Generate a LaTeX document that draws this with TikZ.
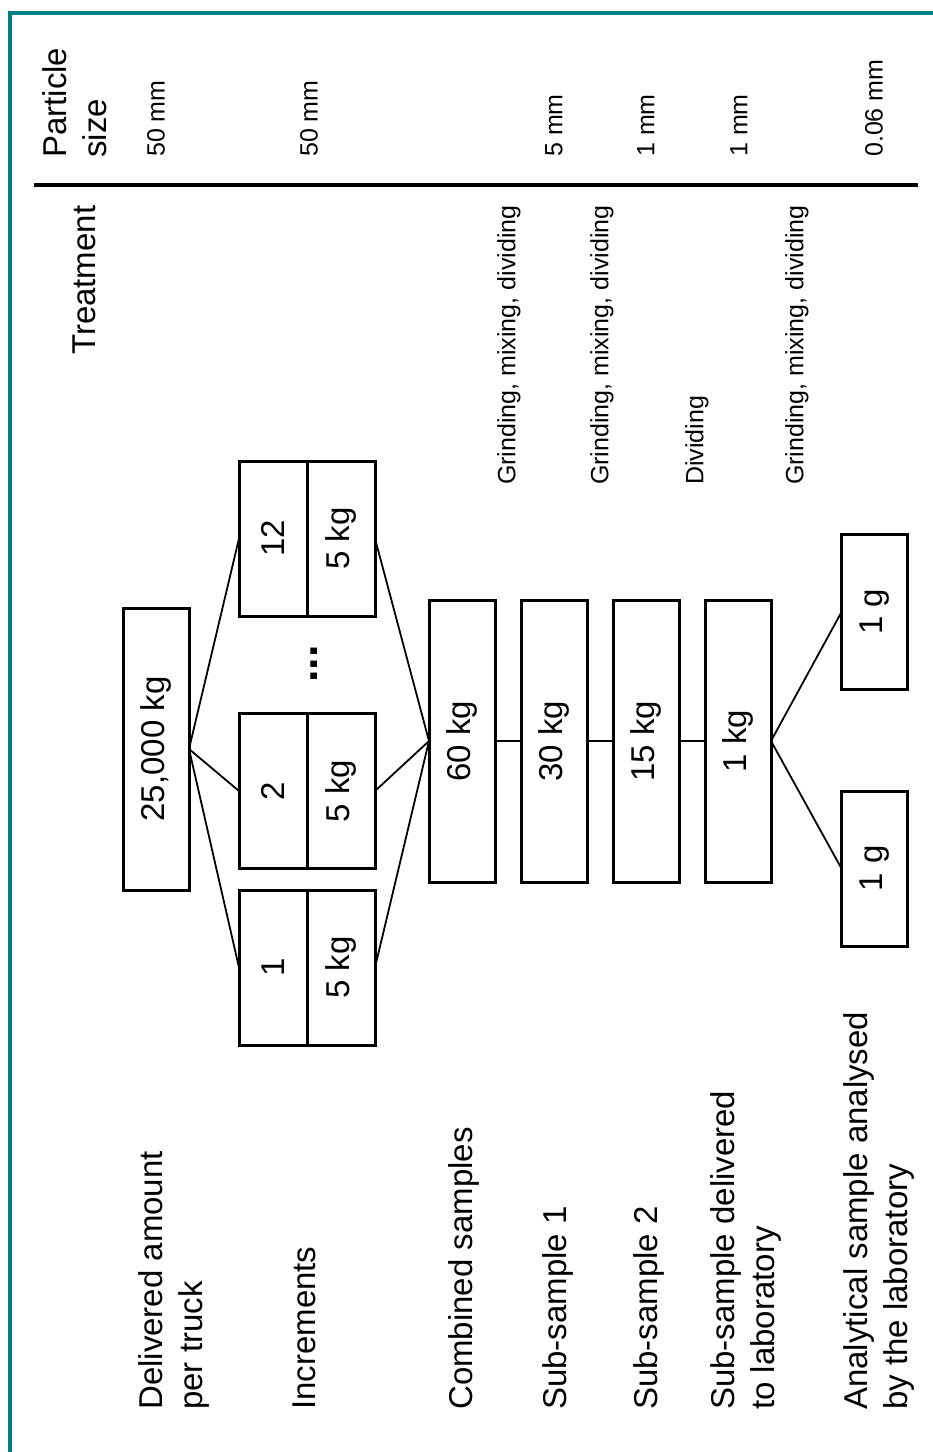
\documentclass[tikz,border=0pt]{standalone}
\usepackage{fontspec}
\setmainfont{Liberation Sans}
\usepackage{tikz}
\usetikzlibrary{positioning}
\definecolor{frameteal}{RGB}{0,128,128}
\newcommand{\bigtxt}{\fontsize{33}{40}\selectfont}
\newcommand{\smalltxt}{\fontsize{25}{30}\selectfont}
\tikzset{
  box/.style={draw, line width=3pt, inner sep=0pt, outer sep=0pt, minimum width=66pt, font=\bigtxt},
  mass/.style={box, minimum height=282pt},
  cell/.style={box, minimum width=68pt, minimum height=155pt},
  link/.style={line width=1.8pt},
  rowlabel/.style={rotate=90, anchor=north west, align=left, inner sep=0pt, font=\bigtxt},
  note/.style={rotate=90, anchor=north west, inner sep=0pt, font=\smalltxt},
}

\begin{document}
\begin{tikzpicture}[x=1pt, y=-1pt]
  \useasboundingbox (0,0) rectangle (933,1452);
  % FRAME
  \draw[frameteal, line width=3.3pt] (10,1452) -- (10,13) -- (933,13);

  % HEADERS
  \node[rowlabel] (hsize) at (42,158) {Particle\\size};
  \node[rowlabel] (htreat) at (73,355) {Treatment};
  \draw[line width=4.5pt] (34,185) -- (918,185);

  % ROW LABELS
  \node[rowlabel] (ltruck) at (138,1410) {Delivered amount\\per truck};
  \node[rowlabel] (linc) at (293,1410) {Increments};
  \node[rowlabel] (lcomb) at (448,1410) {Combined samples};
  \node[rowlabel] (lsub1) at (542,1410) {Sub-sample 1};
  \node[rowlabel] (lsub2) at (633,1410) {Sub-sample 2};
  \node[rowlabel] (llab) at (710,1410) {Sub-sample delivered\\to laboratory};
  \node[rowlabel] (lana) at (843,1410) {Analytical sample analysed\\by the laboratory};

  % PARTICLE SIZES
  \node[note] (s1) at (147,157) {50 mm};
  \node[note] (s2) at (300,157) {50 mm};
  \node[note] (s3) at (545,157) {5 mm};
  \node[note] (s4) at (637,157) {1 mm};
  \node[note] (s5) at (730,157) {1 mm};
  \node[note] (s6) at (865,157) {0.06 mm};

  % TREATMENTS
  \node[note] (t1) at (497,485) {Grinding, mixing, dividing};
  \node[note] (t2) at (590,485) {Grinding, mixing, dividing};
  \node[note] (t3) at (685,485) {Dividing};
  \node[note] (t4) at (785,485) {Grinding, mixing, dividing};

  % TRUCK
  \node[mass] (truck) at (156,749) {\rotatebox{90}{25,000 kg}};

  % INCREMENTS
  \node[cell] (inc1a) at (273,967.5) {\rotatebox{90}{1}};
  \node[cell, right=0pt of inc1a] (inc1b) {\rotatebox{90}{5 kg}};
  \node[cell] (inc2a) at (273,791) {\rotatebox{90}{2}};
  \node[cell, right=0pt of inc2a] (inc2b) {\rotatebox{90}{5 kg}};
  \node[cell] (inc12a) at (273,538.5) {\rotatebox{90}{12}};
  \node[cell, right=0pt of inc12a] (inc12b) {\rotatebox{90}{5 kg}};
  \node[rotate=90, anchor=base, inner sep=0pt, font=\bfseries\fontsize{45}{45}\selectfont] (dots) at (317,664) {...};

  % SAMPLE CHAIN
  \node[mass] (comb) at (462,741) {\rotatebox{90}{60 kg}};
  \node[mass, right=26pt of comb] (sub1) {\rotatebox{90}{30 kg}};
  \node[mass, right=26pt of sub1] (sub2) {\rotatebox{90}{15 kg}};
  \node[mass, right=26pt of sub2] (lab) {\rotatebox{90}{1 kg}};
  \node[box, minimum height=155pt] (anaA) at (874.5,612) {\rotatebox{90}{1 g}};
  \node[box, minimum height=155pt] (anaB) at (874.5,868.5) {\rotatebox{90}{1 g}};

  % CONNECTORS
  \draw[link] (truck.east) -- (inc1a.west);
  \draw[link] (truck.east) -- (inc2a.west);
  \draw[link] (truck.east) -- (inc12a.west);
  \draw[link] (inc1b.east) -- (comb.west);
  \draw[link] (inc2b.east) -- (comb.west);
  \draw[link] (inc12b.east) -- (comb.west);
  \draw[link] (comb) -- (sub1);
  \draw[link] (sub1) -- (sub2);
  \draw[link] (sub2) -- (lab);
  \draw[link] (lab.east) -- (anaA.west);
  \draw[link] (lab.east) -- (anaB.west);
\end{tikzpicture}
\end{document}
